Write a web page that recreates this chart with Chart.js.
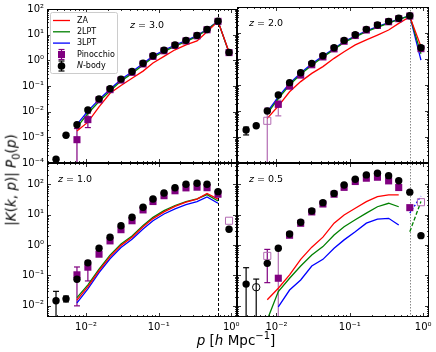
<!DOCTYPE html>
<html>
<head>
<meta charset="utf-8">
<script src="https://cdn.jsdelivr.net/npm/chart.js@4.4.0/dist/chart.umd.min.js"></script>
<style>
body { margin: 0; background: #fff; }
#wrap { position: relative; width: 436px; height: 352px; font-family: "DejaVu Sans"; }
#wrap canvas { position: absolute; left: 0; top: 0; }
.lab { position: absolute; font-size: 13.5px; white-space: nowrap; color: #000; transform: translate(-50%, -50%); }
#ylab { transform: translate(-50%, -50%) rotate(-90deg); }
</style>
</head>
<body>
<div id="wrap">
  <canvas id="c3" width="436" height="352"></canvas>
  <canvas id="c2" width="436" height="352"></canvas>
  <canvas id="c1" width="436" height="352"></canvas>
  <canvas id="c05" width="436" height="352"></canvas>
  <div class="lab" id="ylab" style="left:12px;top:180px">|<i>K</i>(<i>k</i>, <i>p</i>)| <i>P</i><sub style="font-size:10px">0</sub>(<i>p</i>)</div>
  <div class="lab" id="xlab" style="left:236px;top:339px"><i>p</i> [<i>h</i> Mpc<sup style="font-size:10px">&minus;1</sup>]</div>
</div>
<script>
// p grid (h/Mpc)
var p = [0.00386, 0.0053, 0.0075, 0.0106, 0.0151, 0.0214, 0.0303, 0.043, 0.061, 0.0836, 0.1186, 0.168, 0.238, 0.338, 0.464, 0.657, 0.932];
var pCut = 0.657;
var xTicks = [1e-2, 1e-1, 1];
var yTopTicks = [1e-4, 1e-3, 1e-2, 1e-1, 1, 10, 100];
var yBotTicks = [1e-2, 1e-1, 1, 10, 100];

// z = 3.0
var nbody3 = [1.4e-4, 1.2e-3, 3.1e-3, 0.0116, 0.0316, 0.079, 0.186, 0.367, 0.77, 1.51, 2.5, 4.0, 6.0, 9.4, 16, 33.6, 2.04];
var pino3 = [null, null, 8.1e-4, 4.9e-3, 0.029, 0.072, 0.17, 0.34, 0.72, 1.42, 2.35, 3.8, 5.7, 9.0, 15.5, 33, 2.0];
var pino3Lo = [null, null, 1e-6, 2.4e-3];
var pino3Hi = [null, null, 2.2e-3, 8.7e-3];
var za3 = [null, null, 1.75e-3, 3.9e-3, 0.0155, 0.052, 0.105, 0.2, 0.38, 0.79, 1.43, 2.57, 4.0, 5.7, 13, 33, 2.1];
var lpt2_3 = [null, null, 2.5e-3, 8.5e-3, 0.025, 0.064, 0.155, 0.31, 0.66, 1.3, 2.2, 3.6, 5.4, 8.6, 15.5, 33.4, 2.0];
var lpt3_3 = [null, null, 3.2e-3, 0.0105, 0.030, 0.075, 0.18, 0.36, 0.75, 1.48, 2.45, 3.95, 5.9, 9.2, 16, 33.6, 2.0];

// z = 2.0
var nbody2 = [1.86e-3, 2.7e-3, 0.01, 0.041, 0.123, 0.297, 0.68, 1.34, 2.72, 5.2, 8.6, 13.8, 20.3, 28, 36.7, 46, 2.72];
var nbody2Lo = [1.2e-3];
var nbody2Hi = [2.4e-3];
var pino2 = [null, null, 4.2e-3, 0.018, 0.09, 0.24, 0.6, 1.2, 2.45, 4.8, 8.0, 13, 19.5, 27, 35.5, 45, 2.5];
var pino2Open = [2];
var pino2Lo = [null, null, 1e-6, 6.5e-3];
var pino2Hi = [null, null, 0.013, 0.026];
var za2 = [null, null, 5.2e-3, 0.0155, 0.055, 0.135, 0.28, 0.51, 1.06, 1.9, 3.5, 5.4, 8.3, 13, 23.4, 42.7, 3.0];
var lpt2_2 = [null, null, 8.0e-3, 0.030, 0.10, 0.26, 0.58, 1.18, 2.35, 4.35, 7.1, 11.3, 16.6, 24, 33.5, 45.5, 1.6];
var lpt3_2 = [null, null, 9.3e-3, 0.035, 0.115, 0.29, 0.65, 1.3, 2.55, 4.7, 7.6, 12, 17.5, 25, 34.5, 46.2, 0.9];

// z = 1.0
var nbody1 = [0.0148, 0.017, 0.075, 0.26, 0.785, 1.8, 4.3, 8.2, 17.5, 32.8, 51.8, 77, 100, 108, 100, 57, 3.3];
var nbody1Lo = [1e-6, 0.0135];
var nbody1Hi = [0.03, 0.021];
var pino1 = [null, null, 0.105, 0.187, 0.5, 1.37, 3.2, 6.3, 14.3, 27, 42, 61, 76, 80, 77, 47, 6.3];
var pino1Open = [16];
var pino1Lo = [null, null, 0.01, 0.066];
var pino1Hi = [null, null, 0.19, 0.31];
var za1 = [null, null, 0.0155, 0.0427, 0.145, 0.417, 0.977, 1.82, 3.98, 7.41, 12.3, 18.6, 25.7, 32.4, 50.1, 32.4, null];
var lpt2_1 = [null, null, 0.0186, 0.049, 0.162, 0.468, 1.09, 2.0, 4.37, 8.13, 13.5, 20, 26.9, 33.1, 45.7, 28.2, null];
var lpt3_1 = [null, null, 0.0126, 0.0363, 0.123, 0.355, 0.83, 1.55, 3.39, 6.31, 10.5, 15.5, 21.4, 26.9, 38, 23.7, null];

// z = 0.5
var nbody05 = [0.052, 0.041, 0.25, 0.785, 2.3, 5.6, 13.2, 24.8, 50, 95, 146, 203, 230, 192, 131, 55, 2.04];
var nbody05Open = [1];
var nbody05Lo = [1e-6, 1e-6];
var nbody05Hi = [0.18, 0.076];
var pino05 = [null, null, 0.44, 0.081, 2.1, 5.2, 12.3, 22.4, 47, 79, 123, 158, 170, 129, 78, 17, 25.7];
var pino05Open = [2, 16];
var pino05Lo = [null, null, 0.058, 1e-6];
var pino05Hi = [null, null, 0.72, 0.72];
var za05 = [null, null, 0.0158, 0.038, 0.105, 0.339, 0.851, 1.82, 5.25, 9.77, 16.2, 26.9, 38.9, 44.7, 44.7, null, null];
var lpt2_05 = [null, null, 3.5e-3, 0.0295, 0.081, 0.204, 0.468, 0.891, 2.14, 3.98, 6.76, 11.2, 18.2, 23.7, 18.2, null, null];
var lpt3_05 = [null, null, null, 9.3e-3, 0.0331, 0.0708, 0.204, 0.339, 0.785, 1.48, 2.75, 5.25, 7.08, 7.59, 4.57, null, null];
var lpt2_05neg = [null, null, null, null, null, null, null, null, null, null, null, null, null, null, null, 2.75, 26.9];
var lpt3_05neg = [null, null, null, null, null, null, null, null, null, null, null, null, null, null, null, 11.2, 40.7];

var RED = '#ff0000', GREEN = '#008000', BLUE = '#0000ff', PURPLE = '#800080', LIGHT = '#b36bb3';

Chart.defaults.font.family = '"DejaVu Sans"';
Chart.defaults.font.size = 10;
Chart.defaults.color = '#000';

function sup(n) {
  var m = {'-': '\u207b', '0': '\u2070', '1': '\u00b9', '2': '\u00b2', '3': '\u00b3', '4': '\u2074'};
  return String(n).split('').map(function (c) { return m[c]; }).join('');
}

function pts(ys) {
  return p.map(function (x, i) { return {x: x, y: ys[i] == null ? null : ys[i]}; });
}

function hline(ctx, x0, y0, x1, y1) {
  ctx.beginPath(); ctx.moveTo(x0, y0); ctx.lineTo(x1, y1); ctx.stroke();
}

var panelPlugin = {
  id: 'panel',
  beforeDatasetsDraw: function (chart, args, o) {
    var ctx = chart.ctx, a = chart.chartArea, xs = chart.scales.x, ys = chart.scales.y;
    ctx.save();
    ctx.beginPath(); ctx.rect(a.left, a.top, a.right - a.left, a.bottom - a.top); ctx.clip();
    // vertical cut line
    var cx = Math.round(xs.getPixelForValue(pCut)) + 0.5;
    ctx.strokeStyle = o.cutColor; ctx.lineWidth = 1; ctx.setLineDash(o.cutDash);
    hline(ctx, cx, a.top, cx, a.bottom);
    ctx.setLineDash([]);
    // error bars
    o.errs.forEach(function (e) {
      e.lo.forEach(function (lo, i) {
        if (lo == null) return;
        var px = xs.getPixelForValue(p[i]);
        var y0 = ys.getPixelForValue(lo), y1 = ys.getPixelForValue(e.hi[i]);
        ctx.strokeStyle = (e.faint && e.faint.indexOf(i) >= 0) ? LIGHT : e.color;
        ctx.lineWidth = 1.2;
        hline(ctx, px, y0, px, y1);
        hline(ctx, px - 3, y0, px + 3, y0);
        hline(ctx, px - 3, y1, px + 3, y1);
      });
    });
    ctx.restore();
  },
  afterDraw: function (chart, args, o) {
    var ctx = chart.ctx, a = chart.chartArea, xs = chart.scales.x, ys = chart.scales.y;
    ctx.save();
    ctx.strokeStyle = '#000'; ctx.lineWidth = 1;
    ctx.strokeRect(a.left + 0.5, a.top + 0.5, a.right - a.left - 1, a.bottom - a.top - 1);
    ctx.lineWidth = 0.8;
    var e, k, v, px, L;
    for (e = -4; e <= 1; e++) for (k = 1; k < 10; k++) {
      v = k * Math.pow(10, e);
      if (v < xs.min || v > xs.max) continue;
      px = Math.round(xs.getPixelForValue(v)) + 0.5; L = k === 1 ? 4 : 2;
      hline(ctx, px, a.bottom, px, a.bottom - L);
      hline(ctx, px, a.top, px, a.top + L);
    }
    for (e = -6; e <= 3; e++) for (k = 1; k < 10; k++) {
      v = k * Math.pow(10, e);
      if (v < ys.min || v > ys.max) continue;
      px = Math.round(ys.getPixelForValue(v)) + 0.5; L = k === 1 ? 4 : 2;
      hline(ctx, a.left, px, a.left + L, px);
      hline(ctx, a.right, px, a.right - L, px);
    }
    // redshift label
    ctx.fillStyle = '#000'; ctx.textBaseline = 'middle';
    var zx = a.left + o.zx, zy = a.top + 17;
    ctx.font = 'italic 9.5px "DejaVu Sans"';
    ctx.fillText('z', zx, zy);
    var w = ctx.measureText('z').width;
    ctx.font = '9.5px "DejaVu Sans"';
    ctx.fillText(' = ' + o.z, zx + w, zy);
    if (o.legend) drawLegend(ctx);
    ctx.restore();
  }
};

function drawLegend(ctx) {
  ctx.fillStyle = 'rgba(255,255,255,0.8)';
  ctx.strokeStyle = '#cccccc'; ctx.lineWidth = 1;
  ctx.beginPath(); ctx.roundRect(50.5, 12.5, 67, 61, 2); ctx.fill(); ctx.stroke();
  var rows = [['ZA', RED], ['2LPT', GREEN], ['3LPT', BLUE]];
  ctx.font = '8px "DejaVu Sans"'; ctx.textBaseline = 'middle';
  rows.forEach(function (r, i) {
    var yy = 20.5 + i * 11.3;
    ctx.strokeStyle = r[1]; ctx.lineWidth = 1.3;
    hline(ctx, 53, yy, 70, yy);
    ctx.fillStyle = '#000'; ctx.fillText(r[0], 77, yy);
  });
  var yp = 54.5, yn = 66;
  ctx.strokeStyle = PURPLE; ctx.lineWidth = 1.2;
  hline(ctx, 61.5, yp - 5, 61.5, yp + 5); hline(ctx, 58.5, yp - 5, 64.5, yp - 5); hline(ctx, 58.5, yp + 5, 64.5, yp + 5);
  ctx.fillStyle = PURPLE; ctx.fillRect(58, yp - 3.5, 7, 7);
  ctx.strokeStyle = '#000';
  hline(ctx, 61.5, yn - 5, 61.5, yn + 5); hline(ctx, 58.5, yn - 5, 64.5, yn - 5); hline(ctx, 58.5, yn + 5, 64.5, yn + 5);
  ctx.fillStyle = '#000'; ctx.beginPath(); ctx.arc(61.5, yn, 3.8, 0, Math.PI * 2); ctx.fill();
  ctx.fillText('Pinocchio', 77, yp);
  ctx.font = 'italic 8px "DejaVu Sans"'; ctx.fillText('N', 77, yn);
  var w = ctx.measureText('N').width;
  ctx.font = '8px "DejaVu Sans"'; ctx.fillText('-body', 77 + w, yn);
}

function lineSet(ys, color, dash) {
  return {data: pts(ys), borderColor: color, borderWidth: 1.3, borderDash: dash || [], pointRadius: 0,
    fill: false, tension: 0, spanGaps: false, order: 3};
}

function markerSet(ys, color, style, radius, open, order) {
  open = open || [];
  return {data: pts(ys), showLine: false, pointStyle: style, pointRadius: radius, pointHoverRadius: radius,
    pointBorderWidth: function (c) { return open.indexOf(c.dataIndex) >= 0 ? 1 : 0; },
    pointBackgroundColor: function (c) { return open.indexOf(c.dataIndex) >= 0 ? 'rgba(255,255,255,0)' : color; },
    pointBorderColor: function (c) { return open.indexOf(c.dataIndex) >= 0 ? (color === '#000' ? '#000' : LIGHT) : color; },
    order: order};
}

function makePanel(id, d) {
  var sets = [
    lineSet(d.za, RED), lineSet(d.l2, GREEN), lineSet(d.l3, BLUE)
  ];
  (d.extra || []).forEach(function (s) { sets.push(s); });
  sets.push(markerSet(d.pino, PURPLE, 'rect', 5, d.pinoOpen, 2));
  sets.push(markerSet(d.nb, '#000', 'circle', 3.7, d.nbOpen, 1));
  var yw = d.yTicks ? 40 : 0, xh = d.xLabels ? 20 : 0;
  new Chart(document.getElementById(id), {
    type: 'line',
    data: {datasets: sets},
    options: {
      responsive: false, animation: false, devicePixelRatio: 1,
      layout: {padding: {left: d.area[0] - yw, top: d.area[1], right: 436 - d.area[2], bottom: 352 - d.area[3] - xh}},
      plugins: {legend: {display: false}, tooltip: {enabled: false},
        panel: {z: d.z, zx: d.zx, legend: d.legend, cutColor: d.cutColor, cutDash: d.cutDash, errs: d.errs}},
      scales: {
        x: {type: 'logarithmic', min: 0.0029, max: 1.2, bounds: 'data', display: !!d.xLabels,
          afterBuildTicks: function (s) { s.ticks = xTicks.map(function (v) { return {value: v}; }); },
          afterFit: function (s) { s.height = xh; },
          grid: {display: false, drawTicks: false}, border: {display: false},
          ticks: {padding: 4, maxRotation: 0, minRotation: 0, autoSkip: false, font: {size: 10},
            callback: function (v) { return '10' + sup(Math.round(Math.log10(v))); }}},
        y: {type: 'logarithmic', min: d.yMin, max: d.yMax, bounds: 'data', display: !!d.yTicks,
          afterBuildTicks: function (s) { s.ticks = (d.yTicks || []).map(function (v) { return {value: v}; }); },
          afterFit: function (s) { s.width = yw; },
          grid: {display: false, drawTicks: false}, border: {display: false},
          ticks: {padding: 3, autoSkip: false, font: {size: 10},
            callback: function (v) { return '10' + sup(Math.round(Math.log10(v))); }}}
      }
    },
    plugins: [panelPlugin]
  });
}

makePanel('c3', {area: [47, 7, 237, 163], yMin: 1e-4, yMax: 100, yTicks: yTopTicks, xLabels: false,
  z: '3.0', zx: 83, legend: true, cutColor: '#000', cutDash: [3, 2],
  za: za3, l2: lpt2_3, l3: lpt3_3, nb: nbody3, pino: pino3,
  errs: [{lo: pino3Lo, hi: pino3Hi, color: PURPLE}]});

makePanel('c2', {area: [237, 7, 429, 163], yMin: 1e-4, yMax: 100, yTicks: null, xLabels: false,
  z: '2.0', zx: 12, cutColor: '#888', cutDash: [1.5, 1.5],
  za: za2, l2: lpt2_2, l3: lpt3_2, nb: nbody2, pino: pino2, pinoOpen: pino2Open,
  errs: [{lo: nbody2Lo, hi: nbody2Hi, color: '#000'}, {lo: pino2Lo, hi: pino2Hi, color: PURPLE, faint: [2, 3]}]});

makePanel('c1', {area: [47, 163, 237, 317], yMin: 0.0043, yMax: 500, yTicks: yBotTicks, xLabels: true,
  z: '1.0', zx: 11, cutColor: '#000', cutDash: [3, 2],
  za: za1, l2: lpt2_1, l3: lpt3_1, nb: nbody1, pino: pino1, pinoOpen: pino1Open,
  errs: [{lo: nbody1Lo, hi: nbody1Hi, color: '#000'}, {lo: pino1Lo, hi: pino1Hi, color: PURPLE}]});

makePanel('c05', {area: [237, 163, 429, 317], yMin: 0.0043, yMax: 500, yTicks: null, xLabels: true,
  z: '0.5', zx: 12, cutColor: '#888', cutDash: [1.5, 1.5],
  za: za05, l2: lpt2_05, l3: lpt3_05, nb: nbody05, nbOpen: nbody05Open, pino: pino05, pinoOpen: pino05Open,
  extra: [lineSet(lpt2_05neg, GREEN, [4, 2]), lineSet(lpt3_05neg, BLUE, [2, 2])],
  errs: [{lo: nbody05Lo, hi: nbody05Hi, color: '#000'}, {lo: pino05Lo, hi: pino05Hi, color: PURPLE, faint: [3]}]});
</script>
</body>
</html>
